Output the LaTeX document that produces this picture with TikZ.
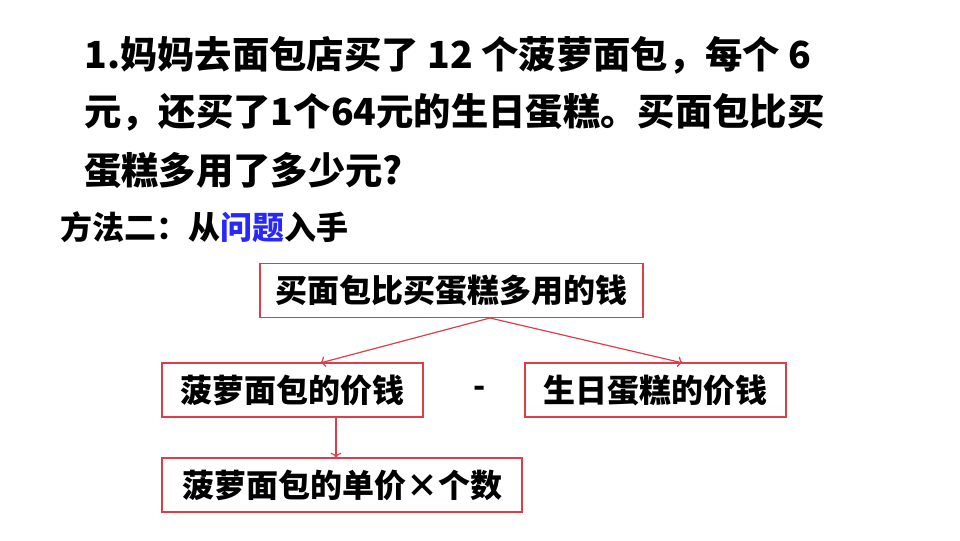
\documentclass[tikz,border=0pt]{standalone}
\usepackage{fontspec}
\usetikzlibrary{arrows.meta}
\newfontfamily\cjk{Noto Sans CJK SC}
\definecolor{boxred}{RGB}{222,62,74}
\definecolor{askblue}{RGB}{40,40,250}

\begin{document}
\begin{tikzpicture}[x=0.75pt,y=-0.75pt,
	every node/.style={font=\cjk\bfseries, inner sep=0pt},
	qline/.style={anchor=west, font=\cjk\bfseries\fontsize{28pt}{28pt}\selectfont},
	mbox/.style={draw=boxred, line width=1.1pt, minimum height=40.5pt, font=\cjk\bfseries\fontsize{24pt}{24pt}\selectfont},
	link/.style={draw=boxred, line width=0.9pt, -{To[length=4pt,width=8pt]}}]
	\useasboundingbox (0,0) rectangle (960,540);
	
	\node[qline] (l1) at (84, 55)  {1.妈妈去面包店买了 12 个菠萝面包，每个 6};
	\node[qline] (l2) at (84, 112) {元，还买了1个64元的生日蛋糕。买面包比买};
	\node[qline] (l3) at (84, 170) {蛋糕多用了多少元?};
	\node[anchor=west, font=\cjk\bfseries\fontsize{24pt}{24pt}\selectfont] (way) at (60, 227) {方法二：从\textcolor{askblue}{问题}入手};
	
	\node[mbox, minimum width=287pt] (total) at (451.5, 290.5) {买面包比买蛋糕多用的钱};
	\node[mbox, minimum width=196pt] (bread) at (292.5, 390)   {菠萝面包的价钱};
	\node[mbox, minimum width=196pt] (cake)  at (655.5, 390)   {生日蛋糕的价钱};
	\node[mbox, minimum width=270pt] (unit)  at (342, 485)     {菠萝面包的单价×个数};
	\node[font=\cjk\bfseries\fontsize{24pt}{24pt}\selectfont] (minus) at (480, 392) {-};
	
	\coordinate (apex) at (490, 318);
	\coordinate (bt) at (320, 363);
	\coordinate (ct) at (683, 363);
	\coordinate (bb) at (336, 417);
	\coordinate (ut) at (336, 458);
	\draw[link] (apex) -- (bt);
	\draw[link] (apex) -- (ct);
	\draw[link] (bb) -- (ut);
	
\end{tikzpicture}
\end{document}
